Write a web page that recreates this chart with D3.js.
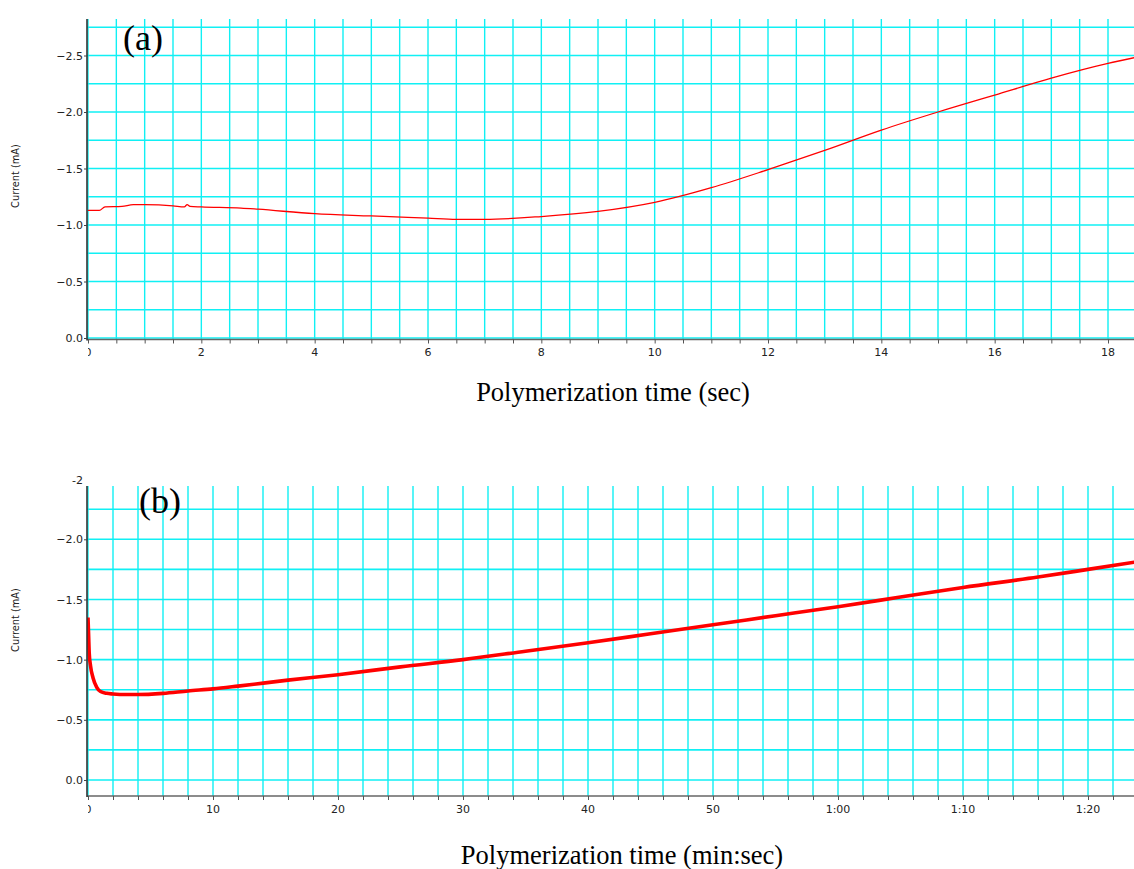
<!DOCTYPE html>
<html>
<head>
<meta charset="utf-8">
<script src="https://cdn.jsdelivr.net/npm/d3@7"></script>
<style>
  html, body { margin: 0; padding: 0; background: #fff; }
  svg { display: block; }
</style>
</head>
<body>
<svg id="chart" width="1134" height="869"></svg>
<script>
// ---------- Data ----------
// Panel (a): time in seconds, current in mA
const timeA = [0, 0.2, 0.3, 0.6, 0.8, 1.0, 1.5, 1.7, 1.75, 1.8, 2.0, 2.7, 3.0, 4.0, 5.0, 6.0, 6.5, 7.0, 8.0, 9.0, 10.0, 11.0, 12.0, 13.0, 14.0, 15.0, 16.0, 17.0, 18.0, 18.46];
const currentA = [-1.13, -1.13, -1.16, -1.165, -1.18, -1.18, -1.17, -1.16, -1.18, -1.165, -1.16, -1.15, -1.14, -1.10, -1.08, -1.06, -1.05, -1.05, -1.075, -1.12, -1.20, -1.33, -1.49, -1.66, -1.84, -2.00, -2.15, -2.30, -2.43, -2.48];
// Panel (b): time in seconds, current in mA
const timeB = [0, 0.05, 0.1, 0.2, 0.4, 0.7, 1.0, 1.5, 2, 3, 4, 6, 8, 10, 12, 16, 20, 25, 30, 35, 40, 45, 50, 55, 60, 65, 70, 76, 80, 83.7];
const currentB = [-1.35, -1.2, -1.05, -0.95, -0.85, -0.77, -0.735, -0.72, -0.715, -0.71, -0.71, -0.72, -0.74, -0.757, -0.78, -0.83, -0.875, -0.94, -1.0, -1.07, -1.14, -1.215, -1.29, -1.365, -1.44, -1.52, -1.60, -1.686, -1.75, -1.81];

const yTicksA = [0, -0.5, -1.0, -1.5, -2.0, -2.5];
const yTicksB = [0, -0.5, -1.0, -1.5, -2.0];
const xTicksA = [0, 2, 4, 6, 8, 10, 12, 14, 16, 18];
const xTicksB = [0, 10, 20, 30, 40, 50, 60, 70, 80];

const svg = d3.select("#chart");
const GRID = "#10f0f4";
const TICK_FONT = "DejaVu Sans, Verdana, sans-serif";

function fmtY(v) { return v === 0 ? "0.0" : d3.format(".1f")(v); }
function fmtMinSec(t) {
  if (t < 60) return String(t);
  const m = Math.floor(t / 60), s = t % 60;
  return m + ":" + String(s).padStart(2, "0");
}

function panel(cfg) {
  const g = svg.append("g");
  const x = d3.scaleLinear().domain(cfg.xDomain).range(cfg.xRange);
  const y = d3.scaleLinear().domain(cfg.yDomain).range(cfg.yRange);
  const left = cfg.plotLeft, right = 1134, top = cfg.plotTop, bottom = cfg.plotBottom;

  const clipId = "clip" + cfg.id;
  svg.append("clipPath").attr("id", clipId).append("rect")
    .attr("x", left).attr("y", top).attr("width", right - left).attr("height", bottom - top);

  const grid = g.append("g").attr("clip-path", `url(#${clipId})`);
  const xMax = x.invert(right);
  const vLines = d3.range(cfg.xDomain[0], xMax + 1e-6, cfg.xMinor);
  grid.selectAll("line.v").data(vLines).join("line")
    .attr("x1", d => x(d)).attr("x2", d => x(d))
    .attr("y1", top).attr("y2", bottom)
    .attr("stroke", GRID).attr("stroke-width", 1.4);
  const yTopVal = y.invert(top);
  const hLines = d3.range(0, yTopVal - 1e-6, -0.25);
  grid.selectAll("line.h").data(hLines).join("line")
    .attr("x1", left).attr("x2", right)
    .attr("y1", d => y(d)).attr("y2", d => y(d))
    .attr("stroke", GRID).attr("stroke-width", 1.6);

  const line = d3.line().x((d, i) => x(cfg.time[i])).y(d => y(d)).curve(d3.curveMonotoneX);
  grid.append("path").datum(cfg.values)
    .attr("d", line).attr("fill", "none")
    .attr("stroke", "#ff0000").attr("stroke-width", cfg.lineWidth)
    .attr("stroke-linejoin", "round");

  const xAxisG = g.append("g").attr("transform", `translate(0,${bottom})`);
  const xAx = d3.axisBottom(x).tickValues(vLines).tickSize(4).tickFormat("");
  xAxisG.call(xAx);
  xAxisG.select(".domain").attr("d", `M${left},0H${right}`).attr("stroke", "#666").attr("stroke-width", 1.5);
  xAxisG.selectAll(".tick line").attr("stroke", "#555");
  const xClip = "xclip" + cfg.id;
  svg.append("clipPath").attr("id", xClip).append("rect")
    .attr("x", cfg.xRange[0]).attr("y", bottom).attr("width", right).attr("height", 40);
  g.append("g").attr("clip-path", `url(#${xClip})`)
    .selectAll("text").data(cfg.xTicks).join("text")
    .attr("x", d => x(d)).attr("y", cfg.xLabelY)
    .attr("text-anchor", "middle")
    .attr("font-family", TICK_FONT)
    .attr("font-size", 11).attr("fill", "#222")
    .text(cfg.xFormat);

  const yAxisG = g.append("g").attr("transform", `translate(${left},0)`);
  const yAx = d3.axisLeft(y).tickValues(cfg.yTicks).tickSize(3).tickFormat(fmtY);
  yAxisG.call(yAx);
  yAxisG.select(".domain").attr("d", `M0,${top}V${bottom + 1}`).attr("stroke", "#333").attr("stroke-width", 1.6);
  yAxisG.selectAll(".tick line").attr("stroke", "#444");
  yAxisG.selectAll(".tick text")
    .attr("font-family", TICK_FONT)
    .attr("font-size", 11).attr("fill", "#222").attr("x", -4);
  if (cfg.extraYLabel) {
    g.append("text").attr("x", left - 4).attr("y", y(cfg.extraYLabel.value))
      .attr("dy", "0.32em").attr("text-anchor", "end")
      .attr("font-family", TICK_FONT)
      .attr("font-size", 11).attr("fill", "#222").text(cfg.extraYLabel.text);
  }

  g.append("text")
    .attr("transform", `translate(${cfg.yTitleX},${cfg.yTitleY}) rotate(-90)`)
    .attr("text-anchor", "middle").attr("dy", "0.35em")
    .attr("font-family", TICK_FONT)
    .attr("font-size", 9.8).attr("fill", "#222")
    .text("Current (mA)");

  g.append("text")
    .attr("x", cfg.xTitleX).attr("y", cfg.xTitleY)
    .attr("text-anchor", "middle")
    .attr("font-family", "Liberation Serif, Times New Roman, serif")
    .attr("font-size", 26.5).attr("fill", "#000")
    .text(cfg.xTitle);

  g.append("text")
    .attr("x", cfg.tagX).attr("y", cfg.tagY)
    .attr("font-family", "Liberation Serif, Times New Roman, serif")
    .attr("font-size", 36).attr("fill", "#000")
    .text(cfg.tag);
}

panel({
  id: "a", time: timeA, values: currentA, lineWidth: 1.3,
  xDomain: [0, 18], xRange: [88, 1108], xMinor: 0.5,
  yDomain: [0, -2.5], yRange: [338, 55.5],
  plotLeft: 87, plotTop: 19, plotBottom: 339.5,
  xTicks: xTicksA, xFormat: d => String(d), xLabelY: 356,
  yTicks: yTicksA,
  yTitleX: 16, yTitleY: 176,
  xTitle: "Polymerization time (sec)", xTitleX: 613, xTitleY: 401,
  tag: "(a)", tagX: 123, tagY: 50
});

panel({
  id: "b", time: timeB, values: currentB, lineWidth: 3.6,
  xDomain: [0, 80], xRange: [88, 1088], xMinor: 2,
  yDomain: [0, -2], yRange: [780, 539.3],
  plotLeft: 87, plotTop: 486, plotBottom: 796,
  xTicks: xTicksB, xFormat: fmtMinSec, xLabelY: 813,
  yTicks: yTicksB, extraYLabel: { value: -2.49, text: "-2" },
  yTitleX: 16, yTitleY: 620,
  xTitle: "Polymerization time (min:sec)", xTitleX: 622, xTitleY: 864,
  tag: "(b)", tagX: 139, tagY: 513
});
</script>
</body>
</html>
